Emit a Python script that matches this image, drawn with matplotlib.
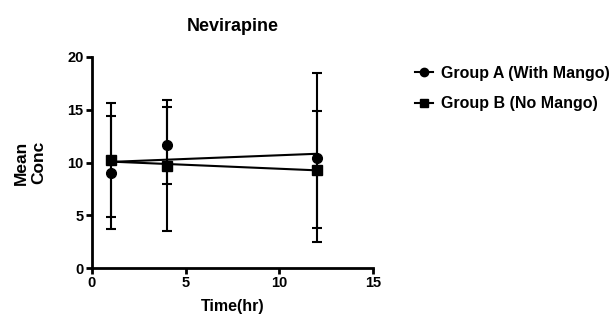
import numpy as np
import matplotlib
matplotlib.use("Agg")
import matplotlib.pyplot as plt

plt.rcParams['font.family'] = ['Liberation Sans', 'DejaVu Sans']
plt.rcParams['font.weight'] = 'bold'

time_hr = [1, 4, 12]
groupA_mean = [9.05, 11.65, 10.45]
groupA_sd = [5.35, 3.65, 8.0]
groupB_mean = [10.2, 9.7, 9.3]
groupB_sd = [5.4, 6.2, 5.55]
labels = ["Group A (With Mango)", "Group B (No Mango)"]

fig = plt.figure(figsize=(6.15, 3.2), dpi=100)
ax = fig.add_axes([92/615, 1-268/320, (373-92)/615, (268-57)/320])

t = np.array(time_hr)
# linear fit lines (as in the original Prism plot)
tt = np.array([t.min(), t.max()])
for mean, sd, mk, lab in [(groupA_mean, groupA_sd, 'o', labels[0]),
                          (groupB_mean, groupB_sd, 's', labels[1])]:
    ax.errorbar(t, mean, yerr=sd, fmt=mk, color='black', ms=7,
                capsize=3.5, elinewidth=1.5, capthick=1.5, zorder=3)
    p = np.polyfit(t, mean, 1)
    ax.plot(tt, np.polyval(p, tt), color='black', lw=1.5, zorder=2)
    ax.plot([], [], color='black', marker=mk, ms=6, lw=1.5, label=lab)

ax.set_xlim(0, 15)
ax.set_ylim(0, 20)
ax.set_xticks([0, 5, 10, 15])
ax.set_yticks([0, 5, 10, 15, 20])
for s in ['top', 'right']:
    ax.spines[s].set_visible(False)
for s in ['left', 'bottom']:
    ax.spines[s].set_linewidth(2)
ax.tick_params(width=2, length=4, labelsize=10.5, pad=2)

ax.set_title("Nevirapine", fontsize=13, fontweight='bold', pad=19)
ax.set_xlabel("Time(hr)", fontsize=11.5, fontweight='bold', labelpad=6)
ax.set_ylabel("Mean\nConc", fontsize=12.5, fontweight='bold', labelpad=15,
              linespacing=1.25)

fig.legend(loc='upper left', bbox_to_anchor=(415/615, 1-66/320), frameon=False,
           fontsize=11.5, handlelength=1.1, handletextpad=0.55, labelspacing=0.95,
           borderpad=0, borderaxespad=0)

fig.savefig("out.png", dpi=100)
